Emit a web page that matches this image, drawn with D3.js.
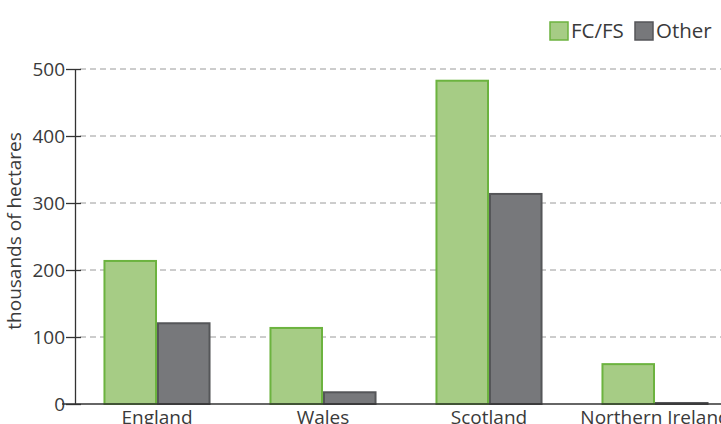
<!DOCTYPE html>
<meta charset="utf-8">
<html lang="en">
<head>
    <title>Woodland area</title>
    <script src="https://cdn.jsdelivr.net/npm/d3@7"></script>
</head>
<style>
    body{
        margin: 0;
        background: white;
        overflow: hidden;
    }
    svg{
        display: block;
    }
    text{
        font-family: "Open Sans", sans-serif;
        fill: #3a3a3a;
    }
</style>
<body>
<svg width="721" height="424"></svg>
<script>

    // values (thousands of hectares)
    const countries = ["England", "Wales", "Scotland", "Northern Ireland"]
    const seriesNames = ["FC/FS", "Other"]
    const fcfs = [215, 115, 484, 61]
    const other = [122, 19, 315, 3]
    const yTicks = [0, 100, 200, 300, 400, 500]

    const colours = {"FC/FS": ["#a6cc85", "#6cb33f"], "Other": ["#77787b", "#555659"]}

    const svg = d3.select("svg")

    const x = d3.scaleBand()
        .domain(countries)
        .range([74, 738])
        .paddingInner(0.355)
        .paddingOuter(0.1775)

    const xs = d3.scaleBand()
        .domain(seriesNames)
        .range([0, x.bandwidth()])

    const y = d3.scaleLinear()
        .domain([0, 500])
        .range([404, 69])

    // gridlines
    svg.append("g")
        .selectAll("line")
        .data(yTicks.filter(d => d > 0))
        .enter()
        .append("line")
        .attr("x1", 80)
        .attr("x2", 721)
        .attr("y1", d => y(d))
        .attr("y2", d => y(d))
        .attr("stroke", "#9a9a9a")
        .attr("stroke-width", 1)
        .attr("stroke-dasharray", "6,4")

    // bars
    const rows = countries.map((c, i) => ({country: c, vals: [fcfs[i], other[i]]}))
    const groups = svg.append("g")
        .selectAll("g")
        .data(rows)
        .enter()
        .append("g")
        .attr("transform", d => "translate(" + x(d.country) + ",0)")

    groups.selectAll("rect")
        .data(d => d.vals.map((v, j) => ({name: seriesNames[j], val: v})))
        .enter()
        .append("rect")
        .attr("x", d => xs(d.name) + 1)
        .attr("y", d => y(d.val) + 1)
        .attr("width", xs.bandwidth() - 2)
        .attr("height", d => Math.max(0, y(0) - y(d.val) - 1))
        .attr("fill", d => colours[d.name][0])
        .attr("stroke", d => colours[d.name][1])
        .attr("stroke-width", 2)

    // y axis
    const yAxis = svg.append("g")
        .attr("transform", "translate(75,0)")
        .call(d3.axisLeft(y).tickValues(yTicks).tickSize(9).tickSizeOuter(0))
    yAxis.select(".domain").attr("stroke", "#333").attr("stroke-width", 1.3)
    yAxis.selectAll(".tick line").attr("stroke", "#333").attr("stroke-width", 1.3)
        .attr("x2", -9).attr("x1", 6)
    yAxis.selectAll(".tick text")
        .attr("x", -10)
        .style("font-size", "19px")
        .style("font-family", "'Open Sans', sans-serif")
        .attr("fill", "#3a3a3a")

    // x axis (labels are cut by the bottom edge, as in the original)
    const xAxis = svg.append("g")
        .attr("transform", "translate(0,404)")
        .call(d3.axisBottom(x).tickSize(0).tickSizeOuter(0))
    xAxis.select(".domain").attr("stroke", "#333").attr("stroke-width", 1.3)
        .attr("d", "M62,0H721")
    xAxis.selectAll(".tick text")
        .attr("y", 6)
        .style("font-size", "19px")
        .style("font-family", "'Open Sans', sans-serif")
        .attr("fill", "#3a3a3a")

    // y title
    svg.append("text")
        .attr("transform", "translate(21,231) rotate(-90)")
        .attr("text-anchor", "middle")
        .style("font-size", "19px")
        .text("thousands of hectares")

    // legend
    const legendX = [549, 634]
    const legend = svg.append("g")
        .selectAll("g")
        .data(seriesNames)
        .enter()
        .append("g")
        .attr("transform", (d, i) => "translate(" + legendX[i] + ",21)")
    legend.append("rect")
        .attr("x", 1).attr("y", 1)
        .attr("width", 18).attr("height", 18)
        .attr("fill", d => colours[d][0])
        .attr("stroke", d => colours[d][1])
        .attr("stroke-width", 1.5)
    legend.append("text")
        .attr("x", 22)
        .attr("y", 17)
        .style("font-size", "20.5px")
        .text(d => d)
</script>
</body>
</html>
